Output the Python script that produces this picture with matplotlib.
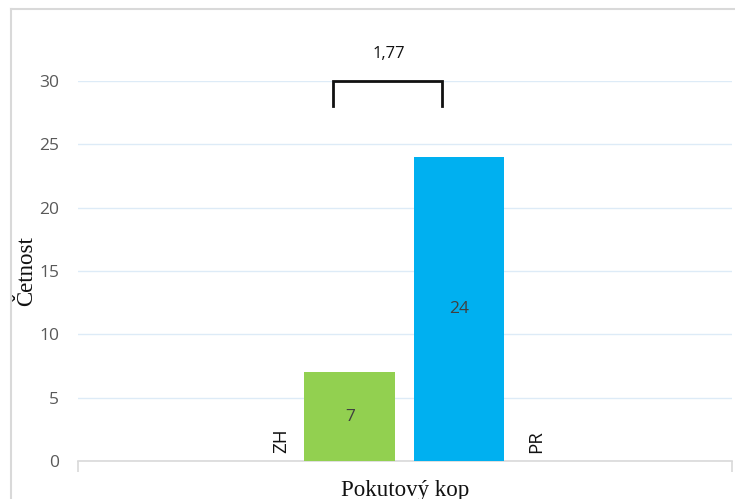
import matplotlib.pyplot as plt
from matplotlib.lines import Line2D

# data
series_names = ["ZH", "PR"]
series_values = [7, 24]
series_colors = ["#92D050", "#00B0F0"]
category = "Pokutový kop"
y_label = "Četnost"
y_ticks = [0, 5, 10, 15, 20, 25, 30]
stat_label = "1,77"
bracket_low, bracket_high = 28, 30

# layout (axis fraction along x)
bar_centers = [0.4155, 0.5826]
bar_width = 0.139
name_x = [0.311, 0.701]
bracket_x = [0.390, 0.556]

fig = plt.figure(figsize=(7.35, 4.99), dpi=100)
ax = fig.add_axes([78 / 735, 1 - 461 / 499, 654 / 735, 380 / 499])

for x, v, c in zip(bar_centers, series_values, series_colors):
    ax.bar(x, v, width=bar_width, color=c, zorder=3)
    ax.text(x, v / 2, str(v), ha="center", va="center", fontsize=12.5,
            color="#404040", family="Open Sans", zorder=4)

for x, name in zip(name_x, series_names):
    ax.text(x, 0.6, name, rotation=90, ha="center", va="bottom", fontsize=13.5,
            color="#111111", family="Open Sans")

# significance bracket
ax.plot([bracket_x[0], bracket_x[0], bracket_x[1], bracket_x[1]],
        [bracket_low, bracket_high, bracket_high, bracket_low],
        color="#111111", lw=2, clip_on=False, zorder=5, solid_joinstyle="miter")
ax.text(sum(bracket_x) / 2 + 0.003, bracket_high + 2.17, stat_label, ha="center", va="center",
        fontsize=12, color="#111111", family="Open Sans")

ax.set_xlim(0, 1)
ax.set_ylim(0, 30)
ax.set_yticks(y_ticks)
ax.set_xticks([0, 1])
ax.set_xticklabels([])
ax.tick_params(axis="y", length=0, labelsize=12.5, labelcolor="#595959", pad=13.5)
ax.tick_params(axis="x", length=8, color="#D9D9D9", width=1.2)
for lbl in ax.get_yticklabels():
    lbl.set_family("Open Sans")
ax.grid(axis="y", color="#DDEBF7", lw=1, zorder=0)
for side in ["top", "right", "left"]:
    ax.spines[side].set_visible(False)
ax.spines["bottom"].set_color("#D9D9D9")
ax.spines["bottom"].set_linewidth(1.2)

ax.set_xlabel(category, family="Liberation Serif", fontsize=16.5, color="#111111", labelpad=2)
ax.set_ylabel(y_label, family="Liberation Serif", fontsize=16.5, color="#111111")
ax.yaxis.set_label_coords(-41 / 654, 0.5)

# outer chart frame
fig.add_artist(Line2D([11 / 735, 1], [1 - 9 / 499] * 2, transform=fig.transFigure,
                      color="#D9D9D9", lw=1.5))
fig.add_artist(Line2D([11 / 735] * 2, [0, 1 - 9 / 499], transform=fig.transFigure,
                      color="#D9D9D9", lw=1.5))

fig.savefig("out.png", dpi=100)
